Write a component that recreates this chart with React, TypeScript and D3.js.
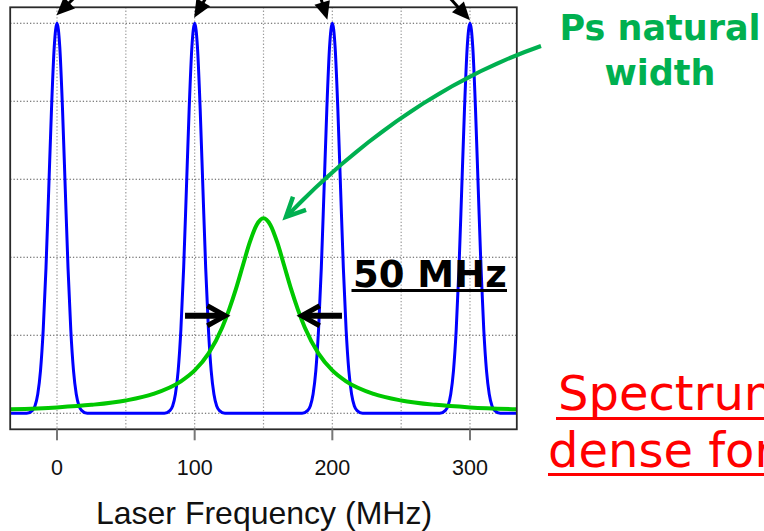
import React from "react";
import * as d3 from "d3";

// ---- data ----
const peakCenters = [0, 100, 200, 300]; // MHz, blue comb lines
const blueOffsets = [-22, -18, -16, -14, -12, -10, -8, -6, -4, -2, 0, 2, 4, 6, 8, 10, 12, 14, 16, 18, 22];
const blueValues = [0, 0.007, 0.019, 0.049, 0.109, 0.215, 0.373, 0.575, 0.78, 0.94, 1.0, 0.94, 0.78, 0.575, 0.373, 0.215, 0.109, 0.049, 0.019, 0.007, 0];

const greenCenter = 150;
const greenOffsets = [-185, -150, -125, -100, -80, -60, -50, -40, -30, -25, -20, -15, -10, -5, 0, 5, 10, 15, 20, 25, 30, 40, 50, 60, 80, 100, 125, 150, 185];
const greenValues = [0.0102, 0.0152, 0.0217, 0.033, 0.0498, 0.0821, 0.11, 0.153, 0.22, 0.266, 0.319, 0.379, 0.438, 0.483, 0.5, 0.483, 0.438, 0.379, 0.319, 0.266, 0.22, 0.153, 0.11, 0.0821, 0.0498, 0.033, 0.0217, 0.0152, 0.0102];

const xTicks = [0, 100, 200, 300];
const xGrid = [0, 50, 100, 150, 200, 250, 300];
const yGrid = [0, 0.2, 0.4, 0.6, 0.8, 1.0];
const xDomain = [-34, 334];
const yDomain = [-0.041, 1.041];
const xTitle = "Laser Frequency (MHz)";
const widthLabel = "50 MHz";
const widthHalf = 27; // MHz, half width at quarter height (arrows)
const greenTitle = ["Ps natural", "width"];
const redText = ["Spectrum", "dense for"];

const W = 764;
const H = 531;
const plot = { left: 10.2, right: 516.8, top: 7.3, bottom: 429.3 };

export default function App() {
  const x = d3.scaleLinear().domain(xDomain).range([plot.left, plot.right]);
  const y = d3.scaleLinear().domain(yDomain).range([plot.bottom, plot.top]);

  // blue comb path
  const bluePts: [number, number][] = [[xDomain[0], 0]];
  peakCenters.forEach((c) => {
    blueOffsets.forEach((o, i) => bluePts.push([c + o, blueValues[i]]));
  });
  bluePts.push([xDomain[1], 0]);
  const lineGen = d3
    .line<[number, number]>()
    .x((d) => x(d[0]))
    .y((d) => y(d[1]))
    .curve(d3.curveMonotoneX);
  const bluePath = lineGen(bluePts) || "";
  const greenPts: [number, number][] = greenOffsets.map((o, i) => [greenCenter + o, greenValues[i]]);
  const greenPath = lineGen(greenPts) || "";

  // top arrows (pointing down at peaks)
  const topDirs = [
    [0.714, -0.7],
    [0.507, -0.862],
    [-0.287, -0.958],
    [-0.669, -0.743],
  ];
  const tipOffsets = [8, 5.5, 3.5, 3];
  const arrowHead = (tx: number, ty: number, dx: number, dy: number, len: number, half: number) => {
    const bx = tx + dx * len;
    const by = ty + dy * len;
    const px = -dy;
    const py = dx;
    return `M${tx},${ty}L${bx + px * half},${by + py * half}L${bx - px * half},${by - py * half}Z`;
  };

  const qY = y(0.25);
  const lTip = x(greenCenter - widthHalf);
  const rTip = x(greenCenter + widthHalf);
  const lTail = x(greenCenter - 57);
  const rTail = x(greenCenter + 57);

  // green curved arrow
  const gTip = [x(greenCenter) + 22.5, y(0.5) - 1.5];
  const gCtrl = [407, 93];
  const gEnd = [541, 46];

  const sans = "'Liberation Sans', Arial, Helvetica, sans-serif";
  const wide = "'DejaVu Sans', Verdana, sans-serif";

  return (
    <svg
      width={W}
      height={H}
      viewBox={`0 0 ${W} ${H}`}
      style={{ position: "absolute", left: 0, top: 0, background: "#fff", overflow: "hidden" }}
    >
      <defs>
        <clipPath id="plotClip">
          <rect x={plot.left} y={plot.top} width={plot.right - plot.left} height={plot.bottom - plot.top} />
        </clipPath>
      </defs>
      <rect x={0} y={0} width={W} height={H} fill="#fff" />

      {/* grid */}
      {xGrid.map((g) => (
        <line
          key={"vx" + g}
          x1={x(g)}
          x2={x(g)}
          y1={plot.top}
          y2={plot.bottom}
          stroke="#9a9a9a"
          strokeWidth={1.2}
          strokeDasharray="1.3 2"
        />
      ))}
      {yGrid.map((g) => (
        <line
          key={"hy" + g}
          x1={plot.left}
          x2={plot.right}
          y1={y(g)}
          y2={y(g)}
          stroke="#555"
          strokeWidth={1.1}
          strokeDasharray="1.3 2"
        />
      ))}

      {/* curves */}
      <g clipPath="url(#plotClip)">
        <path d={bluePath} fill="none" stroke="#0000ff" strokeWidth={3} strokeLinejoin="round" />
        <path d={greenPath} fill="none" stroke="#00c800" strokeWidth={4} strokeLinejoin="round" />
      </g>

      {/* frame */}
      <rect
        x={plot.left}
        y={plot.top}
        width={plot.right - plot.left}
        height={plot.bottom - plot.top}
        fill="none"
        stroke="#2a2a2a"
        strokeWidth={1.8}
      />

      {/* x axis ticks */}
      {xTicks.map((t) => (
        <g key={"t" + t}>
          <line x1={x(t)} x2={x(t)} y1={plot.bottom} y2={plot.bottom + 11} stroke="#777" strokeWidth={2} />
          <text x={x(t)} y={475} textAnchor="middle" fontFamily={sans} fontSize={21.5} fill="#111">
            {t}
          </text>
        </g>
      ))}
      <text x={264} y={524} textAnchor="middle" fontFamily={sans} fontSize={32} fill="#111">
        {xTitle}
      </text>

      {/* top arrows */}
      {peakCenters.map((c, i) => {
        const tx = x(c) - (i < 2 ? 0.5 : 0) + (i === 2 ? -5 : 0);
        const ty = y(1) - tipOffsets[i];
        const [dx, dy] = topDirs[i];
        return (
          <g key={"ta" + i}>
            <line x1={tx + dx * 14} y1={ty + dy * 14} x2={tx + dx * 60} y2={ty + dy * 60} stroke="#000" strokeWidth={3} />
            <path d={arrowHead(tx, ty, dx, dy, 18, 8)} fill="#000" />
          </g>
        );
      })}

      {/* 50 MHz width arrows */}
      <line x1={lTail} x2={lTip - 3} y1={qY} y2={qY} stroke="#000" strokeWidth={6} />
      <polyline
        points={`${lTip - 19},${qY - 10} ${lTip - 1},${qY} ${lTip - 19},${qY + 10}`}
        fill="none"
        stroke="#000"
        strokeWidth={5}
        strokeLinejoin="miter"
      />
      <line x1={rTail} x2={rTip + 3} y1={qY} y2={qY} stroke="#000" strokeWidth={6} />
      <polyline
        points={`${rTip + 19},${qY - 10} ${rTip + 1},${qY} ${rTip + 19},${qY + 10}`}
        fill="none"
        stroke="#000"
        strokeWidth={5}
        strokeLinejoin="miter"
      />
      <text x={353} y={286.5} fontFamily={wide} fontWeight="bold" fontSize={37} fill="#000">
        {widthLabel}
      </text>
      <line x1={351.5} x2={507} y1={290.5} y2={290.5} stroke="#000" strokeWidth={3} />

      {/* green annotation */}
      <path
        d={`M${gEnd[0]},${gEnd[1]}Q${gCtrl[0]},${gCtrl[1]} ${gTip[0] + 3},${gTip[1] - 3}`}
        fill="none"
        stroke="#00b050"
        strokeWidth={4}
      />
      <polyline
        points={`${gTip[0] + 7},${gTip[1] - 20} ${gTip[0]},${gTip[1]} ${gTip[0] + 20},${gTip[1] - 7}`}
        fill="none"
        stroke="#00b050"
        strokeWidth={4.5}
        strokeLinejoin="miter"
      />
      <text x={660} y={39.5} textAnchor="middle" fontFamily={wide} fontWeight="bold" fontSize={35} fill="#00b050">
        {greenTitle[0]}
      </text>
      <text x={660} y={85} textAnchor="middle" fontFamily={wide} fontWeight="bold" fontSize={35} fill="#00b050">
        {greenTitle[1]}
      </text>

      {/* red annotation (clipped at right edge) */}
      <text x={558} y={410} fontFamily={wide} fontSize={48} fill="#ff0000">
        {redText[0]}
      </text>
      <line x1={556} x2={W + 10} y1={418.5} y2={418.5} stroke="#ff0000" strokeWidth={3} />
      <text x={548} y={466.5} fontFamily={wide} fontSize={48} fill="#ff0000">
        {redText[1]}
      </text>
      <line x1={548} x2={W + 10} y1={474.5} y2={474.5} stroke="#ff0000" strokeWidth={3} />
    </svg>
  );
}
